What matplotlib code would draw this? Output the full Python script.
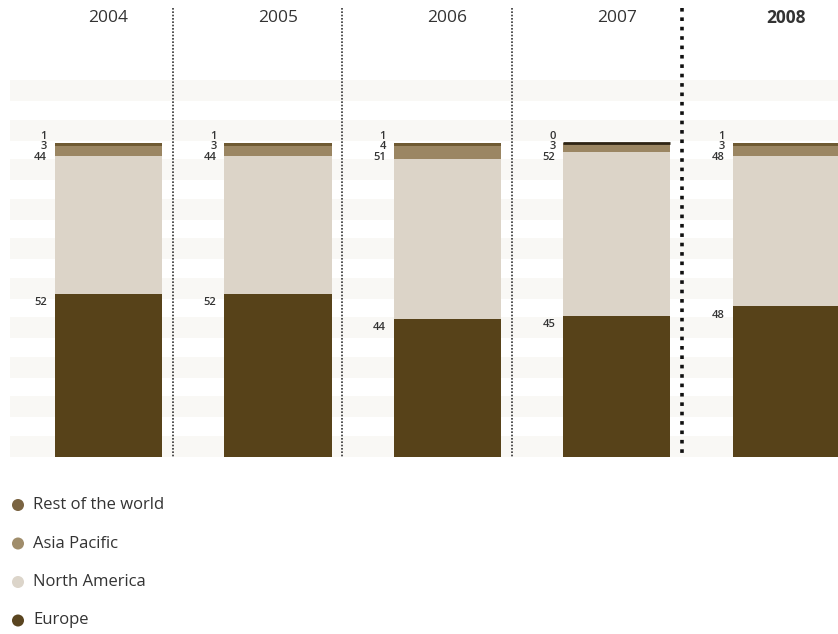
import matplotlib
matplotlib.use("Agg")
import matplotlib.pyplot as plt
from matplotlib.patches import Rectangle

years = ["2004", "2005", "2006", "2007", "2008"]
europe = [52, 52, 44, 45, 48]
north_america = [44, 44, 51, 52, 48]
asia_pacific = [3, 3, 4, 3, 3]
rest_world = [1, 1, 1, 0, 1]
series_names = ["Rest of the world", "Asia Pacific", "North America", "Europe"]

col_eu = "#574219"
col_na = "#dcd4c8"
col_ap = "#9b8663"
col_rw = "#6f5a33"
legend_cols = ["#7a6442", "#a08d6b", "#dcd5ca", "#5a4520"]

W, H = 838, 634
fig = plt.figure(figsize=(W / 100, H / 100), dpi=100)
ax = fig.add_axes([0, 0, 1, 1])
ax.set_axis_off()

# pixel-based layout helpers
x0px, stepx = 108.5, 169.5
base_px, scale = 457.0, 3.14
def px2x(p): return (p - x0px) / stepx
def px2y(p): return (base_px - p) / scale

ax.set_xlim(px2x(0), px2x(W))
ax.set_ylim(px2y(H), px2y(0))

font = "Open Sans"
# background stripes
period, band = 12.58, 6.7
for k in range(10):
    ax.add_patch(Rectangle((px2x(10), k * period), px2x(W) - px2x(10), band,
                           facecolor="#f9f8f5", edgecolor="none", zorder=0))

xs = list(range(len(years)))
width = 107 / stepx
b1 = europe
b2 = [a + b for a, b in zip(b1, north_america)]
b3 = [a + b for a, b in zip(b2, asia_pacific)]
ax.bar(xs, europe, width, color=col_eu, zorder=2)
ax.bar(xs, north_america, width, bottom=b1, color=col_na, zorder=2)
ax.bar(xs, asia_pacific, width, bottom=b2, color=col_ap, zorder=2)
for i, v in enumerate(rest_world):
    if v == 0:
        ax.plot([i - width / 2, i + width / 2], [b3[i], b3[i]], color="#2e2414",
                lw=2, solid_capstyle="butt", zorder=3)
    else:
        ax.bar(i, v, width, bottom=b3[i], color=col_rw, zorder=2)

# labels
lx_off = -(width / 2) - 8 / stepx
lab_kw = dict(textcoords="offset points", ha="right", va="center", fontsize=8,
              color="#333333", fontfamily=font, fontweight="semibold")
for i in xs:
    top = b3[i] + rest_world[i]
    lx = i + lx_off
    for val, dy in [(rest_world[i], 6.5), (asia_pacific[i], -3.5), (north_america[i], -14.5)]:
        ax.annotate(str(val), (lx, top), xytext=(0, dy * 0.72), **lab_kw)
    ax.annotate(str(europe[i]), (lx, europe[i]), xytext=(0, -9 * 0.72), **lab_kw)
    ax.text(i, px2y(18), years[i], ha="center", va="center", fontsize=12.5,
            color="#333333", fontfamily=font,
            fontweight="bold" if i == len(years) - 1 else "normal")

# separators
for i in range(len(years) - 1):
    if i < 3:
        sx = px2x(173 + stepx * i)
        ax.plot([sx, sx], [px2y(8), px2y(458)], color="#333333", lw=1.2,
                linestyle=(0, (1, 1.0)), zorder=4)
    else:
        sx = px2x(682)
        ax.plot([sx, sx], [px2y(8), px2y(458)], color="#111111", lw=2.6,
                linestyle=(0, (1, 1.6)), zorder=4)

# legend
for j, (name, c) in enumerate(zip(series_names, legend_cols)):
    yy = px2y(505 + j * 38.5)
    ax.scatter([px2x(18)], [yy], s=75, color=c, zorder=5, edgecolors="none")
    ax.text(px2x(33), yy, name, ha="left", va="center", fontsize=12,
            color="#333333", fontfamily=font)

fig.savefig("out.png", dpi=100)
